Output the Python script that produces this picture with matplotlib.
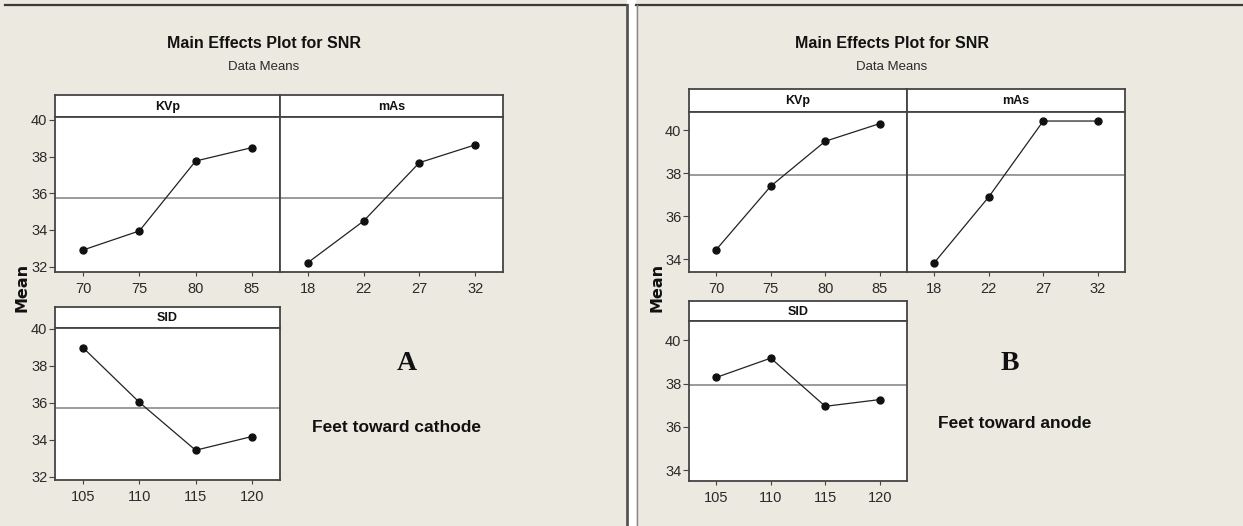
import matplotlib
matplotlib.use('Agg')
import matplotlib.pyplot as plt
from matplotlib import font_manager
from matplotlib.patches import Rectangle
from matplotlib.lines import Line2D

W, H = 1243, 526

# ---------------- data ----------------
kvp_levels = ['70', '75', '80', '85']
mas_levels = ['18', '22', '27', '32']
sid_levels = ['105', '110', '115', '120']

snr_A_kvp = [32.91, 33.95, 37.76, 38.49]
snr_A_mas = [32.22, 34.49, 37.67, 38.64]
snr_A_sid = [38.97, 36.02, 33.43, 34.17]
mean_A = 35.72

snr_B_kvp = [34.45, 37.40, 39.49, 40.31]
snr_B_mas = [33.84, 36.90, 40.43, 40.43]
snr_B_sid = [38.28, 39.17, 36.95, 37.26]
mean_B = 37.92

yticks_A = [32, 34, 36, 38, 40]
yticks_B = [34, 36, 38, 40]

# ---------------- fonts ----------------
names = {f.name for f in font_manager.fontManager.ttflist}
NARROW = 'Liberation Sans Narrow' if 'Liberation Sans Narrow' in names else 'Liberation Sans'
SERIF = 'Liberation Serif'
WIDE = 'DejaVu Sans'

BG = '#ECE9E0'
SPINE = '#444444'
TXT = '#2a2a2a'

fig = plt.figure(figsize=(W / 100, H / 100), dpi=100)
fig.patch.set_facecolor('white')


def fx(x):
    return x / W


def fy(y):
    return 1 - y / H


# background panels
fig.add_artist(Rectangle((0, 0), fx(627), 1, transform=fig.transFigure,
                         facecolor=BG, edgecolor='none', zorder=-10))
fig.add_artist(Rectangle((fx(636), 0), fx(W - 636), 1, transform=fig.transFigure,
                         facecolor=BG, edgecolor='none', zorder=-10))
fig.add_artist(Line2D([fx(5), fx(627)], [fy(5), fy(5)], transform=fig.transFigure,
                      color='#3a3a3a', lw=1.6))
fig.add_artist(Line2D([fx(636), 1], [fy(5), fy(5)], transform=fig.transFigure,
                      color='#3a3a3a', lw=1.6))
fig.add_artist(Line2D([fx(626.5), fx(626.5)], [fy(5), 0], transform=fig.transFigure,
                      color='#555555', lw=2.0))
fig.add_artist(Line2D([fx(637), fx(637)], [fy(5), 0], transform=fig.transFigure,
                      color='#888888', lw=1.0))


def px_axes(x0, y0, x1, y1):
    return fig.add_axes([fx(x0), fy(y1), (x1 - x0) / W, (y1 - y0) / H])


def panel(x0, x1, ys, ydt, ybt, label, levels, values, gmean, ylim, yticks, show_y):
    # strip
    sa = px_axes(x0, ys, x1, ydt)
    sa.set_xticks([])
    sa.set_yticks([])
    sa.set_facecolor('white')
    for s in sa.spines.values():
        s.set_color(SPINE)
        s.set_linewidth(1.3)
    sa.text(0.5, 0.47, label, transform=sa.transAxes, ha='center', va='center',
            fontsize=9, fontweight='bold', family=NARROW, color='#111111')
    # data
    ax = px_axes(x0, ydt, x1, ybt)
    ax.set_facecolor('white')
    xs = list(range(len(levels)))
    ax.axhline(gmean, color='#808080', lw=1.1, zorder=1)
    ax.plot(xs, values, color='#222222', lw=0.9, marker='o', markersize=5,
            markerfacecolor='#111111', markeredgecolor='#111111', zorder=3)
    ax.set_xlim(-0.5, len(levels) - 0.5)
    ax.set_ylim(*ylim)
    ax.set_xticks(xs)
    ax.set_xticklabels(levels, family=NARROW, fontsize=10.5, color=TXT)
    ax.tick_params(axis='x', direction='out', length=3, width=0.8, color=SPINE, pad=4)
    ax.set_yticks(yticks)
    if show_y:
        ax.set_yticklabels([str(t) for t in yticks], family=NARROW, fontsize=10.5, color=TXT)
        ax.tick_params(axis='y', direction='out', length=4, width=0.8, color=SPINE, pad=1.5)
    else:
        ax.tick_params(axis='y', length=0, labelleft=False)
    for s in ax.spines.values():
        s.set_color(SPINE)
        s.set_linewidth(1.3)
    return ax


# ---------------- Panel A ----------------
ylimA_top = (31.71, 40.16)
ylimA_sid = (31.82, 40.04)
panel(55, 280, 95, 117, 272, 'KVp', kvp_levels, snr_A_kvp, mean_A, ylimA_top, yticks_A, True)
panel(280, 503, 95, 117, 272, 'mAs', mas_levels, snr_A_mas, mean_A, ylimA_top, yticks_A, False)
panel(55, 280, 307, 328, 480, 'SID', sid_levels, snr_A_sid, mean_A, ylimA_sid, yticks_A, True)

fig.text(fx(264), fy(43), 'Main Effects Plot for SNR', ha='center', va='center',
         fontsize=11.5, fontweight='bold', family=NARROW, color='#111111')
fig.text(fx(264), fy(67), 'Data Means', ha='center', va='center',
         fontsize=9.5, family=NARROW, color=TXT)
fig.text(fx(22), fy(287), 'Mean', ha='center', va='center', rotation=90,
         fontsize=11.5, fontweight='bold', family=WIDE, color='#111111')
fig.text(fx(407), fy(363), 'A', ha='center', va='center',
         fontsize=20, fontweight='bold', family=SERIF, color='#111111')
fig.text(fx(397), fy(428), 'Feet toward cathode', ha='center', va='center',
         fontsize=12.5, fontweight='bold', family=NARROW, color='#111111')

# ---------------- Panel B ----------------
ylimB_top = (33.41, 40.85)
ylimB_sid = (33.51, 40.88)
panel(689, 907, 89, 112, 272, 'KVp', kvp_levels, snr_B_kvp, mean_B, ylimB_top, yticks_B, True)
panel(907, 1125, 89, 112, 272, 'mAs', mas_levels, snr_B_mas, mean_B, ylimB_top, yticks_B, False)
panel(689, 907, 301, 321, 481, 'SID', sid_levels, snr_B_sid, mean_B, ylimB_sid, yticks_B, True)

fig.text(fx(892), fy(43), 'Main Effects Plot for SNR', ha='center', va='center',
         fontsize=11.5, fontweight='bold', family=NARROW, color='#111111')
fig.text(fx(892), fy(67), 'Data Means', ha='center', va='center',
         fontsize=9.5, family=NARROW, color=TXT)
fig.text(fx(657), fy(287), 'Mean', ha='center', va='center', rotation=90,
         fontsize=11.5, fontweight='bold', family=WIDE, color='#111111')
fig.text(fx(1010), fy(363), 'B', ha='center', va='center',
         fontsize=20, fontweight='bold', family=SERIF, color='#111111')
fig.text(fx(1015), fy(424), 'Feet toward anode', ha='center', va='center',
         fontsize=12.5, fontweight='bold', family=NARROW, color='#111111')

fig.savefig('out.png', dpi=100, facecolor=fig.get_facecolor())
